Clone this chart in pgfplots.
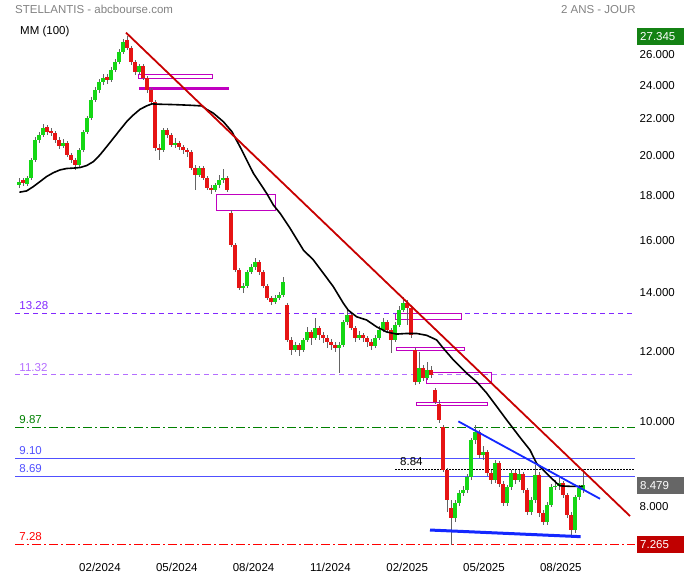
\documentclass[border=0pt]{standalone}
\usepackage{pgfplots}
\pgfplotsset{compat=1.18}
\usepackage{pgfplotstable}
\usepackage{fontspec}
\setmainfont{Liberation Sans}
\definecolor{cgreen}{RGB}{20,215,20}
\definecolor{cred}{RGB}{230,20,20}
\definecolor{cwick}{RGB}{100,100,100}
\definecolor{ctitle}{RGB}{130,130,130}
\definecolor{cviolet}{RGB}{130,40,255}
\definecolor{clilac}{RGB}{180,110,255}
\definecolor{cdgreen}{RGB}{0,128,0}
\definecolor{cblue}{RGB}{80,80,255}
\definecolor{cline}{RGB}{255,0,0}
\definecolor{ctrend}{RGB}{200,0,0}
\definecolor{ctblue}{RGB}{20,40,255}
\definecolor{cmag}{RGB}{192,0,192}
\definecolor{cboxg}{RGB}{20,130,20}
\definecolor{cboxgr}{RGB}{102,102,102}
\definecolor{cboxr}{RGB}{192,0,0}
\newcommand{\lab}{\fontsize{11.5}{13}\selectfont}

\pgfplotstableread{
i o h l c
0 18.56 18.90 18.41 18.70
1 18.80 18.90 18.51 18.65
2 18.60 19.00 18.51 18.90
3 18.90 19.91 18.80 19.81
4 19.81 21.03 19.71 20.87
5 20.87 21.31 20.71 21.14
6 21.14 21.75 21.03 21.53
7 21.58 21.69 21.14 21.31
8 21.36 21.53 21.09 21.25
9 21.25 21.36 20.71 20.87
10 20.87 21.03 20.39 20.55
11 20.55 20.92 20.44 20.71
12 20.71 20.82 19.96 20.07
13 20.07 20.17 19.66 19.81
14 19.81 19.91 19.30 19.55
15 19.55 20.44 19.45 20.33
16 20.33 21.42 20.22 21.31
17 21.31 22.21 21.20 22.10
18 22.10 23.34 21.98 23.16
19 23.16 23.96 23.04 23.77
20 23.77 24.46 23.58 24.27
21 24.27 24.78 24.08 24.52
22 24.59 24.78 24.15 24.40
23 24.40 25.24 24.27 25.04
24 25.04 25.77 24.91 25.57
25 25.57 26.45 25.43 26.24
26 26.24 27.15 26.11 26.94
27 27.08 27.345 26.38 26.52
28 26.52 26.66 25.37 25.57
29 25.57 25.70 24.71 24.91
30 24.91 25.43 24.78 25.30
31 25.30 25.43 24.40 24.52
32 24.52 24.65 23.58 23.77
33 23.77 23.90 22.86 23.04
34 23.04 23.16 20.28 20.44
35 20.44 20.65 19.81 20.33
36 20.33 21.53 20.22 21.42
37 21.42 21.53 20.98 21.14
38 21.14 21.25 20.49 20.60
39 20.60 20.98 20.44 20.71
40 20.71 20.82 20.33 20.49
41 20.49 20.60 20.12 20.33
42 20.33 20.44 19.96 20.22
43 20.22 20.33 19.30 19.40
44 19.40 19.55 18.32 19.05
45 19.05 19.50 18.95 19.40
46 19.40 19.50 18.80 18.90
47 18.90 19.00 18.32 18.41
48 18.41 18.56 18.13 18.32
49 18.32 18.65 18.22 18.56
50 18.56 19.05 18.41 18.80
51 18.80 19.35 18.65 18.90
52 18.90 19.00 18.22 18.32
53 17.25 17.39 15.79 15.87
54 15.87 15.95 14.79 14.87
55 14.87 14.95 14.11 14.18
56 14.18 14.37 14.00 14.26
57 14.26 14.87 14.18 14.79
58 14.79 15.10 14.72 14.98
59 14.98 15.34 14.87 15.18
60 15.18 15.26 14.68 14.79
61 14.79 14.87 14.18 14.26
62 14.26 14.33 13.75 13.82
63 13.82 13.89 13.57 13.68
64 13.68 13.93 13.61 13.82
65 13.82 14.04 13.75 13.93
66 13.93 14.60 13.85 14.40
67 13.57 13.64 12.33 12.39
68 12.39 12.48 11.91 12.07
69 12.07 12.33 12.01 12.23
70 12.23 12.29 11.88 12.07
71 12.07 12.45 12.01 12.39
72 12.39 12.81 12.33 12.64
73 12.64 12.71 12.23 12.45
74 12.45 13.11 12.39 12.78
75 12.78 12.85 12.39 12.54
76 12.54 12.64 12.29 12.45
77 12.45 12.54 12.13 12.33
78 12.33 12.42 12.07 12.23
79 12.23 12.33 12.01 12.13
80 12.13 12.33 11.37 12.23
81 12.23 13.05 12.17 12.98
82 12.98 13.47 12.88 13.22
83 13.22 13.29 12.71 12.78
84 12.78 12.85 12.33 12.45
85 12.45 12.68 12.39 12.54
86 12.54 12.61 12.33 12.45
87 12.45 12.51 12.17 12.33
88 12.33 12.42 12.07 12.20
89 12.20 12.54 12.13 12.45
90 12.45 12.85 12.39 12.71
91 12.71 13.11 12.64 12.98
92 12.98 13.05 12.61 12.71
93 12.71 12.78 11.98 12.39
94 12.39 12.98 12.33 12.88
95 12.88 13.54 12.81 13.39
96 13.39 13.85 13.32 13.64
97 13.64 13.75 12.88 13.47
98 13.47 13.54 12.45 12.54
99 12.07 12.13 11.01 11.10
100 11.10 12.01 11.04 11.52
101 11.52 11.61 11.13 11.22
102 11.22 11.70 11.16 11.46
103 11.46 11.58 11.22 11.31
104 10.88 10.93 10.49 10.54
105 10.49 10.60 9.98 10.06
106 9.88 9.93 8.78 8.83
107 8.83 8.87 7.91 8.165
108 8.00 8.165 7.265 7.79
109 7.79 8.165 7.71 8.10
110 8.10 8.38 8.04 8.31
111 8.31 8.47 8.25 8.38
112 8.38 8.74 8.31 8.67
113 8.67 9.60 8.60 9.55
114 9.55 9.93 9.45 9.75
115 9.75 9.80 9.11 9.18
116 9.18 9.40 9.06 9.25
117 9.25 9.30 8.69 8.76
118 8.76 8.83 8.51 8.60
119 8.60 9.06 8.53 8.99
120 8.99 9.04 8.44 8.51
121 8.51 8.58 8.04 8.10
122 8.10 8.49 8.04 8.44
123 8.44 8.83 8.38 8.76
124 8.76 8.83 8.51 8.60
125 8.60 8.83 8.56 8.74
126 8.74 8.78 8.31 8.38
127 8.38 8.42 7.85 7.91
128 7.91 8.23 7.85 8.165
129 8.165 8.94 8.10 8.72
130 8.72 8.78 7.81 7.89
131 7.89 7.95 7.65 7.71
132 7.71 8.12 7.65 8.06
133 8.06 8.51 8.02 8.44
134 8.44 8.60 8.38 8.47
135 8.47 8.65 8.38 8.53
136 8.53 8.58 8.21 8.27
137 8.27 8.31 7.79 7.85
138 7.85 7.91 7.43 7.55
139 7.55 8.27 7.49 8.23
140 8.23 8.49 8.165 8.42
141 8.38 8.84 8.31 8.479
}\candles

\pgfplotstableread{
x y
0.1 18.21
1.9 18.27
3.6 18.48
5.25 18.72
6.9 18.97
8.6 19.16
10.25 19.30
11.9 19.37
13.6 19.39
15.25 19.42
16.9 19.52
18.6 19.72
20.25 20.07
21.9 20.50
23.6 20.96
25.25 21.42
26.9 21.88
28.6 22.27
30.25 22.60
31.9 22.80
33.2 22.92
35.25 22.90
38.6 22.88
42.75 22.84
45.7 22.80
46.9 22.60
48.6 22.37
51.1 21.88
53.2 21.33
55.25 20.50
56.9 19.81
58.6 19.13
60.25 18.64
61.9 18.16
63.6 17.61
65.25 17.24
67.75 16.58
71.1 15.66
73.6 15.26
76.1 14.74
78.6 14.23
81.1 13.63
82.3 13.39
84.4 13.16
86.9 13.05
89.4 12.82
91.9 12.65
94.4 12.58
96.9 12.60
99.4 12.60
101.9 12.54
104.4 12.39
106.1 12.12
108.6 11.76
111.9 11.36
114.4 11.11
116.9 10.79
119.4 10.42
121.9 10.06
125.25 9.61
127.75 9.30
129.4 8.98
131.9 8.75
134.4 8.53
135.25 8.47
137.75 8.46
141 8.46
}\mma

\begin{document}
\begin{tikzpicture}
\useasboundingbox (0,0) rectangle (684pt,580pt);
\begin{axis}[
  at={(15pt,25pt)}, anchor=south west,
  scale only axis, width=620pt, height=555pt,
  xmin=-1, xmax=154, ymode=log, ymin=7.074, ymax=30.05,
  axis line style={draw=none},
  major tick length=0pt, minor tick length=0pt,
  xtick={20.25,39.45,58.65,77.85,97.05,116.25,135.45},
  xticklabels={02/2024,05/2024,08/2024,11/2024,02/2025,05/2025,08/2025},
  ytick={8,10,12,14,16,18,20,22,24,26},
  yticklabels={8.000,10.000,12.000,14.000,16.000,18.000,20.000,22.000,24.000,26.000},
  yticklabel pos=right,
  yticklabel style={anchor=west, inner sep=0pt, xshift=4.5pt, yshift=1pt, font=\lab},
  xticklabel style={anchor=base, yshift=-17pt, font=\lab},
  clip=false,
]
% horizontal levels
\addplot[cviolet, line width=0.9pt, dash pattern=on 5pt off 4pt] coordinates {(-1,13.28) (154,13.28)};
\addplot[clilac, line width=0.9pt, dash pattern=on 5pt off 4pt] coordinates {(-1,11.32) (154,11.32)};
\addplot[cdgreen, line width=0.9pt, dash pattern=on 9pt off 3pt on 2pt off 3pt] coordinates {(-1,9.87) (154,9.87)};
\addplot[cblue, line width=0.9pt] coordinates {(-1,9.10) (154,9.10)};
\addplot[cblue, line width=0.9pt] coordinates {(-1,8.69) (154,8.69)};
\addplot[cline, line width=0.9pt, dash pattern=on 9pt off 3pt on 2pt off 3pt] coordinates {(-1,7.28) (154,7.28)};
\addplot[black, line width=0.8pt, dash pattern=on 1.5pt off 1.5pt] coordinates {(94,8.84) (154,8.84)};

\node[anchor=base west, text=cviolet, font=\lab, inner sep=0pt, xshift=4.3pt, yshift=3.5pt] at (axis cs:-1,13.28) {13.28};
\node[anchor=base west, text=clilac, font=\lab, inner sep=0pt, xshift=4.3pt, yshift=3.5pt] at (axis cs:-1,11.32) {11.32};
\node[anchor=base west, text=cdgreen, font=\lab, inner sep=0pt, xshift=4.3pt, yshift=3.5pt] at (axis cs:-1,9.87) {9.87};
\node[anchor=base west, text=cblue, font=\lab, inner sep=0pt, xshift=4.3pt, yshift=3.5pt] at (axis cs:-1,9.10) {9.10};
\node[anchor=base west, text=cblue, font=\lab, inner sep=0pt, xshift=4.3pt, yshift=3.5pt] at (axis cs:-1,8.69) {8.69};
\node[anchor=base west, text=cline, font=\lab, inner sep=0pt, xshift=4.3pt, yshift=3.5pt] at (axis cs:-1,7.28) {7.28};
\node[anchor=base west, text=black, font=\lab, inner sep=0pt, xshift=5pt, yshift=3.5pt] at (axis cs:94,8.84) {8.84};

% zones
\addplot[cmag, line width=0.7pt] coordinates {(29.8,24.74)(48.3,24.74)(48.3,24.50)(29.8,24.50)(29.8,24.74)};
\addplot[cmag, line width=2.7pt] coordinates {(30,23.85)(52.5,23.85)};
\addplot[cmag, line width=0.7pt] coordinates {(49.4,18.11)(64.1,18.11)(64.1,17.39)(49.4,17.39)(49.4,18.11)};
\addplot[cmag, line width=0.7pt] coordinates {(94.2,13.27)(110.7,13.27)(110.7,13.08)(94.2,13.08)(94.2,13.27)};
\addplot[cmag, line width=0.7pt] coordinates {(94.25,12.16)(111.3,12.16)(111.3,12.06)(94.25,12.06)(94.25,12.16)};
\addplot[cmag, line width=0.7pt] coordinates {(101.9,11.39)(118.2,11.39)(118.2,11.06)(101.9,11.06)(101.9,11.39)};
\addplot[cmag, line width=0.7pt] coordinates {(99.25,10.52)(117.2,10.52)(117.2,10.44)(99.25,10.44)(99.25,10.52)};

% candles
\pgfplotsinvokeforeach{0,...,141}{%
  \pgfplotstablegetelem{#1}{o}\of\candles \edef\vo{\pgfplotsretval}%
  \pgfplotstablegetelem{#1}{h}\of\candles \edef\vh{\pgfplotsretval}%
  \pgfplotstablegetelem{#1}{l}\of\candles \edef\vl{\pgfplotsretval}%
  \pgfplotstablegetelem{#1}{c}\of\candles \edef\vc{\pgfplotsretval}%
  \ifdim\vc pt<\vo pt \def\col{cred}\else\def\col{cgreen}\fi
  \edef\tmp{\noexpand\addplot[cwick, line width=0.8pt, forget plot] coordinates {(#1,\vl) (#1,\vh)};}\tmp
  \edef\tmp{\noexpand\addplot[\col, line width=3.2pt, forget plot] coordinates {(#1,\vo) (#1,\vc)};}\tmp
}

% moving average
\addplot[black, line width=1.6pt] table[x=x, y=y] {\mma};

% trend lines
\addplot[ctrend, line width=1.8pt] coordinates {(26.75,27.60) (152.75,7.83)};
\addplot[ctblue, line width=1.8pt] coordinates {(109.83,10.02) (145.25,8.19)};
\addplot[ctblue, line width=3pt] coordinates {(102.75,7.55) (140.4,7.42)};

% value boxes
\node[fill=cboxg, text=white, anchor=west, minimum height=17pt, text width=44pt, inner xsep=3pt, inner ysep=0pt, align=left, font=\lab, xshift=2pt] at (axis cs:154,27.345) {27.345};
\node[fill=cboxgr, text=white, anchor=west, minimum height=17pt, text width=44pt, inner xsep=3pt, inner ysep=0pt, align=left, font=\lab, xshift=2pt] at (axis cs:154,8.479) {8.479};
\node[fill=cboxr, text=white, anchor=west, minimum height=17pt, text width=44pt, inner xsep=3pt, inner ysep=0pt, align=left, font=\lab, xshift=2pt] at (axis cs:154,7.265) {7.265};
\end{axis}
\node[anchor=base west, text=ctitle, font=\lab, inner sep=0pt] at (15pt,566.5pt) {STELLANTIS - abcbourse.com};
\node[anchor=base east, text=ctitle, font=\lab, inner sep=0pt] at (636pt,566.5pt) {2 ANS - JOUR};
\node[anchor=base west, font=\lab, inner sep=0pt] at (20pt,545.5pt) {MM (100)};
\end{tikzpicture}
\end{document}
